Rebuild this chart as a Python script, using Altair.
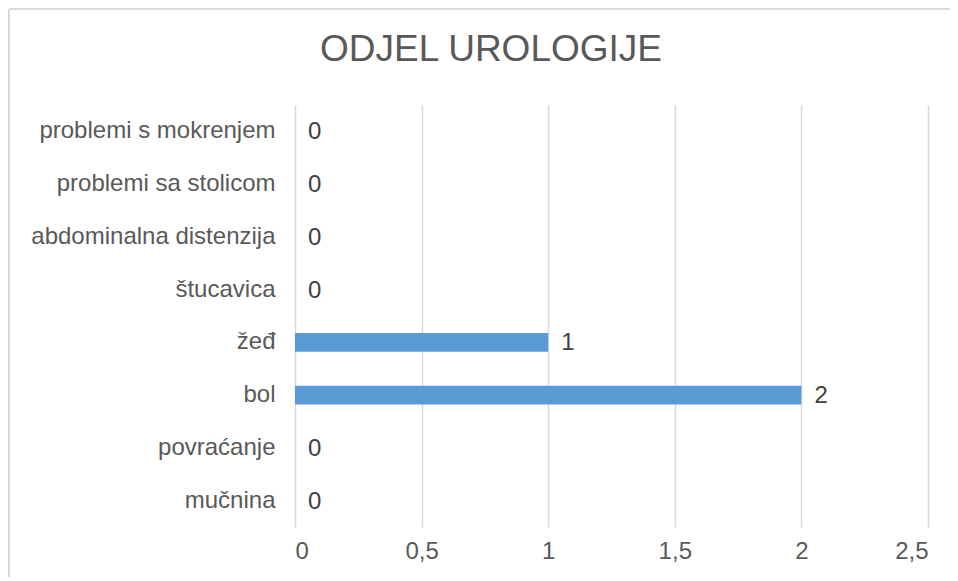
import altair as alt
import pandas as pd

categories = ["problemi s mokrenjem", "problemi sa stolicom", "abdominalna distenzija",
              "štucavica", "žeđ", "bol", "povraćanje", "mučnina"]
values = [0, 0, 0, 0, 1, 2, 0, 0]
x_ticks = [0, 0.5, 1, 1.5, 2, 2.5]
title_text = "ODJEL UROLOGIJE"

df = pd.DataFrame({"kategorija": categories, "vrijednost": values})

W, H = 633, 422
FONT = "Liberation Sans"

x_enc = alt.X("vrijednost:Q",
              scale=alt.Scale(domain=[0, 2.5], nice=False),
              axis=alt.Axis(values=x_ticks, title=None, grid=True, gridColor="#D9D9D9",
                            gridWidth=1.5, domain=False, ticks=False, labelFontSize=24,
                            labelColor="#595959", labelFont=FONT, labelPadding=12,
                            labelExpr="replace(toString(datum.value), '.', ',')"))
y_enc = alt.Y("kategorija:N", sort=categories,
              scale=alt.Scale(paddingInner=0.64, paddingOuter=0.32),
              axis=alt.Axis(title=None, domain=False, ticks=False, labelFontSize=24,
                            labelColor="#595959", labelFont=FONT, labelPadding=20,
                            labelLimit=400))

base = alt.Chart(df)
bars = base.mark_bar(color="#5B9BD5").encode(x=x_enc, y=y_enc)
labels = base.mark_text(align="left", baseline="middle", dx=13, dy=1, fontSize=24,
                        font=FONT, color="#404040").encode(
    x="vrijednost:Q", y=alt.Y("kategorija:N", sort=categories), text="vrijednost:Q")

title = alt.Chart(pd.DataFrame({"t": [title_text]})).mark_text(
    fontSize=37, font=FONT, color="#595959", align="center", baseline="middle").encode(
    x=alt.value(196), y=alt.value(-55), text="t:N")

frame_top = alt.Chart(pd.DataFrame({"a": [0]})).mark_rule(color="#D9D9D9", strokeWidth=2).encode(
    x=alt.value(-286), x2=alt.value(700), y=alt.value(-96))
frame_left = alt.Chart(pd.DataFrame({"a": [0]})).mark_rule(color="#D9D9D9", strokeWidth=2).encode(
    x=alt.value(-286), y=alt.value(-96), y2=alt.value(480))

chart = alt.layer(frame_top, frame_left, bars, labels, title).properties(
    width=W, height=H,
    background="white",
    autosize=alt.AutoSizeParams(type="none"),
    padding={"left": 287, "top": 97, "right": 22, "bottom": 50},
).configure_view(stroke="transparent", strokeWidth=0)

chart.save("out.html", embed_options={"renderer": "svg", "actions": False})
